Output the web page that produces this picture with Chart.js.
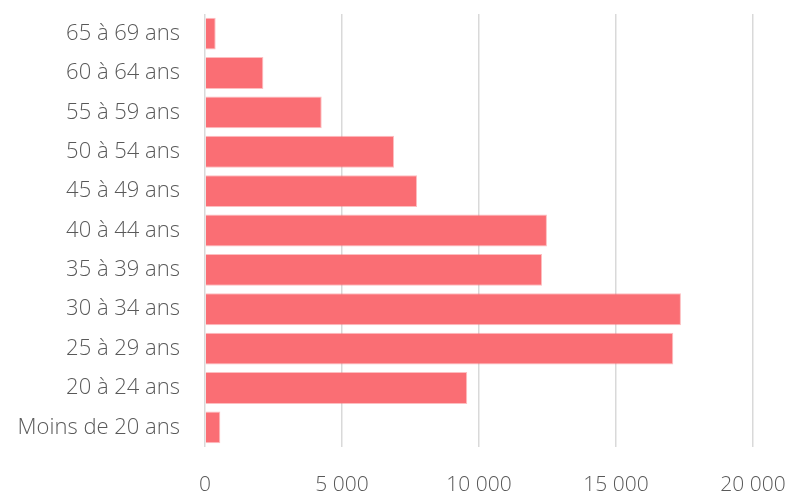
<!DOCTYPE html>
<html>
<head>
<meta charset="utf-8">
<script src="https://cdn.jsdelivr.net/npm/chart.js@4"></script>
<style>
  html, body { margin: 0; padding: 0; background: #fff; overflow: hidden; }
  canvas { display: block; }
</style>
</head>
<body>
<canvas id="chart" width="790" height="492"></canvas>
<script>
const ageGroups = ["65 à 69 ans", "60 à 64 ans", "55 à 59 ans", "50 à 54 ans", "45 à 49 ans",
  "40 à 44 ans", "35 à 39 ans", "30 à 34 ans", "25 à 29 ans", "20 à 24 ans", "Moins de 20 ans"];
const counts = [390, 2130, 4260, 6900, 7740, 12480, 12300, 17370, 17090, 9570, 560];
const xTicks = [0, 5000, 10000, 15000, 20000];

function fmt(v) {
  return String(v).replace(/\B(?=(\d{3})+(?!\d))/g, " ");
}

function noPad(axis) {
  axis.paddingTop = 0;
  axis.paddingBottom = 0;
  axis.paddingLeft = 0;
  axis.paddingRight = 0;
}

const CHART = document.getElementById("chart").getContext("2d");
let barChart = new Chart(CHART, {
  type: "bar",
  data: {
    labels: ageGroups,
    datasets: [{
      data: counts,
      backgroundColor: "#fa6e74",
      borderColor: "rgba(250,110,116,0.45)",
      borderWidth: 1,
      barPercentage: 0.81,
      categoryPercentage: 1.0,
    }],
  },
  options: {
    indexAxis: "y",
    responsive: false,
    animation: false,
    layout: { padding: { top: 14, right: 37, bottom: 0, left: 0 } },
    plugins: { legend: { display: false }, tooltip: { enabled: false } },
    scales: {
      x: {
        min: 0,
        max: 20000,
        afterBuildTicks: function (axis) {
          axis.ticks = xTicks.map(v => ({ value: v }));
        },
        afterFit: function (axis) { axis.height = 45; noPad(axis); },
        grid: { color: "#d9d9d9", lineWidth: 1.5, drawTicks: false },
        border: { display: false },
        ticks: {
          padding: 25,
          color: "#595959",
          font: { family: "Open Sans", size: 21, weight: "300" },
          callback: v => fmt(v),
        },
      },
      y: {
        afterFit: function (axis) { axis.width = 205; noPad(axis); },
        grid: { display: false, drawTicks: false },
        border: { display: false },
        ticks: {
          padding: 25,
          color: "#595959",
          font: { family: "Open Sans", size: 22, weight: "300" },
        },
      },
    },
  },
});
</script>
</body>
</html>
